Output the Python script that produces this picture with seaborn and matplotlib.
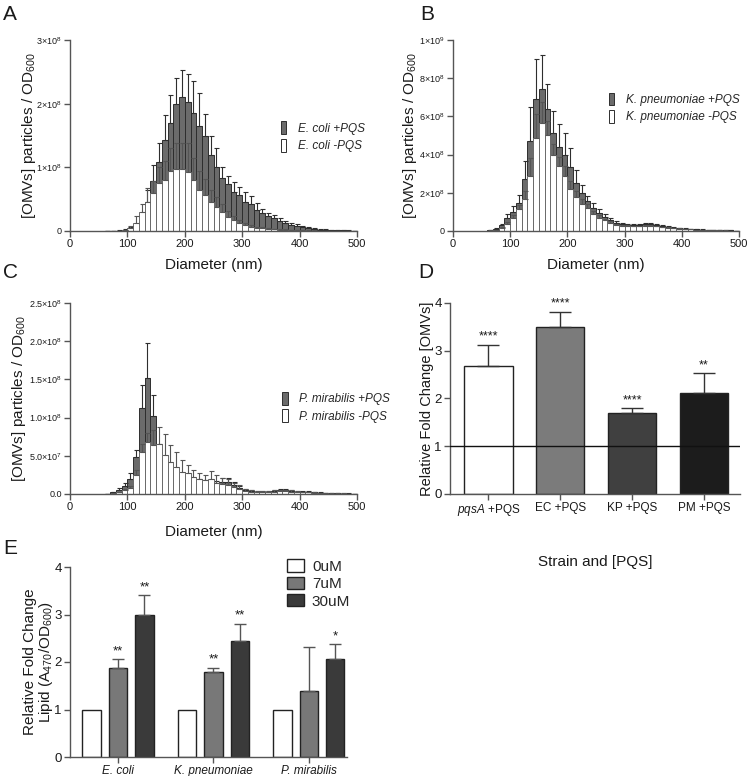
import numpy as np
import pandas as pd
import matplotlib
matplotlib.use("Agg")
import matplotlib.pyplot as plt
import seaborn as sns
from matplotlib.patches import Patch

# ---------------- data ----------------
diam = list(range(65, 500, 10))  # bin centres (nm), 10 nm bins

# Panel A (units of 1e8 particles / OD600)
a_plus = [0.0, 0.0, 0.005, 0.02, 0.04, 0.08, 0.15, 0.45, 0.79, 1.09,
          1.43, 1.69, 2.00, 2.11, 2.03, 1.85, 1.65, 1.50, 1.20, 1.00,
          0.83, 0.74, 0.62, 0.57, 0.46, 0.42, 0.33, 0.29, 0.24, 0.20,
          0.15, 0.12, 0.09, 0.08, 0.06, 0.04, 0.03, 0.02, 0.015, 0.012,
          0.01, 0.008, 0.006, 0.005]
a_plus_err = [0.0, 0.0, 0.005, 0.01, 0.02, 0.03, 0.05, 0.2, 0.25, 0.3,
              0.39, 0.44, 0.40, 0.42, 0.43, 0.50, 0.51, 0.33, 0.30, 0.30,
              0.17, 0.13, 0.15, 0.12, 0.15, 0.13, 0.11, 0.06, 0.05, 0.05,
              0.05, 0.04, 0.04, 0.03, 0.02, 0.02, 0.015, 0.01, 0.01, 0.005,
              0.005, 0.004, 0.003, 0.002]
a_minus = [0.0, 0.0, 0.0, 0.01, 0.05, 0.13, 0.30, 0.46, 0.59, 0.75,
           0.80, 0.95, 0.98, 0.98, 0.93, 0.80, 0.65, 0.57, 0.45, 0.38,
           0.30, 0.22, 0.17, 0.13, 0.09, 0.07, 0.05, 0.04, 0.03, 0.025,
           0.02, 0.015, 0.012, 0.01, 0.008, 0.006, 0.005, 0.004, 0.003, 0.003,
           0.002, 0.002, 0.002, 0.001]
a_minus_err = [0.0, 0.0, 0.0, 0.01, 0.03, 0.10, 0.13, 0.22, 0.20, 0.25,
               0.30, 0.35, 0.40, 0.40, 0.45, 0.35, 0.30, 0.25, 0.20, 0.15,
               0.12, 0.10, 0.07, 0.05, 0.04, 0.03, 0.02, 0.02, 0.015, 0.01,
               0.01, 0.01, 0.005, 0.005, 0.005, 0.004, 0.003, 0.003, 0.002, 0.002,
               0.002, 0.001, 0.001, 0.001]

# Panel B (units of 1e8)
b_plus = [0.05, 0.12, 0.30, 0.70, 1.00, 1.45, 2.70, 4.70, 6.90, 7.46,
          6.40, 5.14, 4.40, 4.00, 3.36, 2.50, 2.00, 1.55, 1.20, 0.95,
          0.75, 0.57, 0.42, 0.36, 0.32, 0.30, 0.32, 0.38, 0.38, 0.33,
          0.25, 0.21, 0.18, 0.15, 0.12, 0.10, 0.08, 0.07, 0.06, 0.05,
          0.04, 0.03, 0.03, 0.02]
b_plus_err = [0.02, 0.04, 0.08, 0.2, 0.3, 0.45, 0.97, 1.8, 2.1, 1.74,
              1.3, 1.16, 1.2, 1.15, 1.0, 0.7, 0.4, 0.3, 0.25, 0.2,
              0.15, 0.12, 0.1, 0.08, 0.06, 0.05, 0.05, 0.06, 0.06, 0.05,
              0.05, 0.04, 0.03, 0.03, 0.02, 0.02, 0.02, 0.015, 0.01, 0.01,
              0.01, 0.01, 0.005, 0.005]
b_minus = [0.02, 0.05, 0.15, 0.38, 0.70, 1.17, 1.70, 2.90, 4.85, 5.63,
           5.05, 3.97, 3.40, 2.90, 2.20, 1.80, 1.43, 1.20, 0.90, 0.70,
           0.55, 0.42, 0.32, 0.27, 0.25, 0.24, 0.24, 0.26, 0.27, 0.24,
           0.20, 0.16, 0.14, 0.12, 0.10, 0.08, 0.06, 0.05, 0.045, 0.04,
           0.03, 0.025, 0.02, 0.015]
b_minus_err = [0.01, 0.02, 0.05, 0.1, 0.15, 0.2, 0.4, 0.9, 1.3, 1.1,
               0.7, 0.6, 0.5, 0.5, 0.4, 0.3, 0.25, 0.2, 0.15, 0.12,
               0.1, 0.08, 0.06, 0.05, 0.04, 0.04, 0.04, 0.04, 0.04, 0.04,
               0.03, 0.03, 0.02, 0.02, 0.02, 0.015, 0.01, 0.01, 0.01, 0.01,
               0.005, 0.005, 0.005, 0.005]

# Panel C (units of 1e8)
c_plus = [0.005, 0.02, 0.05, 0.10, 0.20, 0.48, 1.12, 1.52, 1.02, 0.55,
          0.42, 0.33, 0.28, 0.22, 0.20, 0.17, 0.16, 0.15, 0.14, 0.14,
          0.16, 0.16, 0.12, 0.08, 0.05, 0.04, 0.03, 0.03, 0.03, 0.04,
          0.05, 0.05, 0.04, 0.03, 0.03, 0.025, 0.02, 0.015, 0.01, 0.01,
          0.008, 0.006, 0.005, 0.004]
c_plus_err = [0.0, 0.01, 0.03, 0.05, 0.07, 0.10, 0.31, 0.45, 0.28, 0.10,
              0.08, 0.06, 0.05, 0.04, 0.04, 0.03, 0.03, 0.03, 0.03, 0.03,
              0.05, 0.05, 0.04, 0.03, 0.02, 0.01, 0.01, 0.01, 0.01, 0.015,
              0.02, 0.02, 0.015, 0.01, 0.01, 0.01, 0.005, 0.005, 0.005, 0.003,
              0.003, 0.002, 0.002, 0.002]
c_minus = [0.0, 0.005, 0.02, 0.05, 0.08, 0.25, 0.55, 0.68, 0.64, 0.66,
           0.51, 0.42, 0.35, 0.29, 0.27, 0.22, 0.20, 0.18, 0.20, 0.15,
           0.13, 0.12, 0.09, 0.07, 0.04, 0.03, 0.025, 0.025, 0.025, 0.03,
           0.035, 0.035, 0.03, 0.025, 0.02, 0.02, 0.015, 0.01, 0.008, 0.006,
           0.005, 0.004, 0.003, 0.003]
c_minus_err = [0.0, 0.002, 0.01, 0.02, 0.03, 0.06, 0.10, 0.12, 0.20, 0.22,
               0.27, 0.22, 0.20, 0.16, 0.11, 0.10, 0.08, 0.07, 0.10, 0.10,
               0.08, 0.08, 0.06, 0.05, 0.03, 0.02, 0.02, 0.02, 0.02, 0.02,
               0.02, 0.02, 0.02, 0.015, 0.01, 0.01, 0.01, 0.005, 0.005, 0.005,
               0.003, 0.003, 0.002, 0.002]

# Panel D
d_labels = ["$\\mathit{pqsA}$ +PQS", "EC +PQS", "KP +PQS", "PM +PQS"]
d_vals = [2.69, 3.49, 1.69, 2.11]
d_err = [0.44, 0.33, 0.11, 0.42]
d_stars = ["****", "****", "****", "**"]
d_colors = ["#ffffff", "#7b7b7b", "#404040", "#1c1c1c"]

# Panel E
e_species = ["E. coli", "K. pneumoniae", "P. mirabilis"]
e_conc = ["0uM", "7uM", "30uM"]
e_0uM = [1.0, 1.0, 1.0]
e_7uM = [1.88, 1.78, 1.40]
e_30uM = [2.99, 2.44, 2.06]
e_err_0uM = [0.0, 0.0, 0.0]
e_err_7uM = [0.18, 0.10, 0.92]
e_err_30uM = [0.42, 0.37, 0.31]
e_stars_0uM = ["", "", ""]
e_stars_7uM = ["**", "**", ""]
e_stars_30uM = ["**", "**", "*"]
e_colors = ["#ffffff", "#787878", "#3a3a3a"]

# ---------------- style ----------------
sns.set_theme(style="ticks")
plt.rcParams["font.family"] = ["Liberation Sans", "DejaVu Sans"]
plt.rcParams["mathtext.fontset"] = "custom"
plt.rcParams["mathtext.rm"] = "Liberation Sans"
plt.rcParams["mathtext.it"] = "Liberation Sans:italic"
plt.rcParams["mathtext.default"] = "regular"

SPINE = "#555555"
TXT = "#1a1a1a"
HIST_GREY = "#6b6b6b"

fig = plt.figure(figsize=(7.5, 7.76), dpi=100)
W, H = 750.0, 776.0


def add_ax(left, top, right, bottom):
    return fig.add_axes([left / W, 1 - bottom / H, (right - left) / W, (bottom - top) / H])


axA = add_ax(70, 40, 357, 231)
axB = add_ax(453, 40, 739, 231)
axC = add_ax(70, 303, 357, 494)
axD = add_ax(450, 303, 740, 494)
axE = add_ax(70, 567, 347, 757)


def style_ax(ax):
    sns.despine(ax=ax)
    for s in ("left", "bottom"):
        ax.spines[s].set_color(SPINE)
        ax.spines[s].set_linewidth(1.0)
    ax.tick_params(axis="both", colors=SPINE, labelcolor=TXT, length=4, width=1.0, direction="out", pad=2)


def hist_panel(ax, plus, plus_err, minus, minus_err, ymax, yticks, yticklabels, leg_labels, leg_anchor, ylab_x):
    zeros = np.zeros(len(diam))
    dfp = pd.DataFrame({"d": diam, "v": plus})
    dfm = pd.DataFrame({"d": diam, "v": minus})
    sns.barplot(data=dfp, x="d", y="v", native_scale=True, width=1.0, color=HIST_GREY,
                saturation=1, edgecolor="#2e2e2e", linewidth=0.7, errorbar=None, ax=ax, zorder=1)
    ax.errorbar(diam, plus, yerr=[zeros, plus_err], fmt="none", ecolor="#2e2e2e",
                elinewidth=0.8, capsize=1.8, capthick=0.8, zorder=1.5)
    sns.barplot(data=dfm, x="d", y="v", native_scale=True, width=1.0, color="white",
                saturation=1, edgecolor="#6a6a6a", linewidth=0.7, errorbar=None, ax=ax, zorder=2)
    ax.errorbar(diam, minus, yerr=[zeros, minus_err], fmt="none", ecolor="#555555",
                elinewidth=0.8, capsize=1.8, capthick=0.8, zorder=2.5)
    ax.set_xlim(0, 500)
    ax.set_ylim(0, ymax)
    ax.set_xticks([0, 100, 200, 300, 400, 500])
    ax.set_xticklabels(["0", "100", "200", "300", "400", "500"], fontsize=8)
    ax.set_yticks(yticks)
    ax.set_yticklabels(yticklabels, fontsize=6.5)
    ax.set_xlabel("Diameter (nm)", fontsize=11, color=TXT)
    ax.set_ylabel("[OMVs] particles / OD$_{600}$", fontsize=11, color=TXT)
    ax.xaxis.set_label_coords(0.5, -0.14)
    ax.yaxis.set_label_coords(ylab_x, 0.5)
    style_ax(ax)
    handles = [Patch(facecolor=HIST_GREY, edgecolor="#2e2e2e", linewidth=0.7),
               Patch(facecolor="white", edgecolor="#2e2e2e", linewidth=0.7)]
    ax.legend(handles, leg_labels, loc="upper left", bbox_to_anchor=leg_anchor, frameon=False,
              prop={"size": 8.5, "style": "italic"}, handlelength=0.45, handleheight=1.3,
              handletextpad=1.0, labelspacing=0.35, borderaxespad=0, borderpad=0)


hist_panel(axA, a_plus, a_plus_err, a_minus, a_minus_err, 3.0, [0, 1, 2, 3],
           ["0", "1×10$^{8}$", "2×10$^{8}$", "3×10$^{8}$"],
           ["E. coli +PQS", "E. coli -PQS"], (0.735, 0.575), -0.11)
hist_panel(axB, b_plus, b_plus_err, b_minus, b_minus_err, 10.0, [0, 2, 4, 6, 8, 10],
           ["0", "2×10$^{8}$", "4×10$^{8}$", "6×10$^{8}$", "8×10$^{8}$", "1×10$^{9}$"],
           ["K. pneumoniae +PQS", "K. pneumoniae -PQS"], (0.545, 0.725), -0.12)
hist_panel(axC, c_plus, c_plus_err, c_minus, c_minus_err, 2.5, [0, 0.5, 1.0, 1.5, 2.0, 2.5],
           ["0.0", "5.0×10$^{7}$", "1.0×10$^{8}$", "1.5×10$^{8}$", "2.0×10$^{8}$", "2.5×10$^{8}$"],
           ["P. mirabilis +PQS", "P. mirabilis -PQS"], (0.74, 0.535), -0.148)
axC.xaxis.set_label_coords(0.5, -0.16)

# ---------------- Panel D ----------------
sns.barplot(x=d_labels, y=d_vals, hue=d_labels, palette=d_colors, width=0.67, saturation=1,
            edgecolor="#222222", linewidth=1.0, legend=False, errorbar=None, ax=axD)
xpos = np.arange(len(d_labels))
axD.errorbar(xpos, d_vals, yerr=[np.zeros(len(d_vals)), d_err], fmt="none", ecolor="#333333",
             elinewidth=1.0, capsize=8, capthick=1.0, zorder=3)
for x, v, e, s in zip(xpos, d_vals, d_err, d_stars):
    axD.text(x, v + e + 0.04, s, ha="center", va="bottom", fontsize=9, color=TXT)
axD.axhline(1, color="#111111", lw=1.0, zorder=4)
axD.set_xlim(-0.535, 3.5)
axD.set_ylim(0, 4)
axD.set_yticks([0, 1, 2, 3, 4])
axD.set_yticklabels(["0", "1", "2", "3", "4"], fontsize=9.5)
axD.tick_params(axis="x", labelsize=8.5)
axD.set_xlabel("Strain and [PQS]", fontsize=11, color=TXT)
axD.set_ylabel("Relative Fold Change [OMVs]", fontsize=10.5, color=TXT)
axD.xaxis.set_label_coords(0.5, -0.32)
axD.yaxis.set_label_coords(-0.055, 0.5)
style_ax(axD)

# ---------------- Panel E ----------------
e_vals = {"0uM": e_0uM, "7uM": e_7uM, "30uM": e_30uM}
e_errs = {"0uM": e_err_0uM, "7uM": e_err_7uM, "30uM": e_err_30uM}
e_stars = {"0uM": e_stars_0uM, "7uM": e_stars_7uM, "30uM": e_stars_30uM}
rows = []
for c in e_conc:
    for sp, v in zip(e_species, e_vals[c]):
        rows.append({"species": sp, "conc": c, "val": v})
dfE = pd.DataFrame(rows)
sns.barplot(data=dfE, x="species", y="val", hue="conc", hue_order=e_conc, order=e_species,
            palette=e_colors, saturation=1, width=0.83, gap=0.31, edgecolor="#222222",
            linewidth=1.0, errorbar=None, legend=False, ax=axE)
for cont, c in zip(axE.containers, e_conc):
    for bar, err, star in zip(cont, e_errs[c], e_stars[c]):
        cx = bar.get_x() + bar.get_width() / 2
        top = bar.get_height()
        if err > 0:
            axE.errorbar([cx], [top], yerr=[[0], [err]], fmt="none", ecolor="#555555",
                         elinewidth=1.0, capsize=4, capthick=1.0, zorder=3)
        if star:
            axE.text(cx, top + err + 0.04, star, ha="center", va="bottom", fontsize=9.5, color=TXT)
axE.set_xlim(-0.503, 2.4)
axE.set_ylim(0, 4)
axE.set_yticks([0, 1, 2, 3, 4])
axE.set_yticklabels(["0", "1", "2", "3", "4"], fontsize=9.5)
axE.tick_params(axis="x", labelsize=8.5)
for lbl in axE.get_xticklabels():
    lbl.set_style("italic")
axE.set_xlabel("")
axE.set_ylabel("Relative Fold Change\nLipid (A$_{470}$/OD$_{600}$)", fontsize=11, color=TXT,
               linespacing=1.0)
axE.yaxis.set_label_coords(-0.055, 0.5)
style_ax(axE)
e_handles = [Patch(facecolor=col, edgecolor="#222222", linewidth=1.0) for col in e_colors]
axE.legend(e_handles, e_conc, loc="upper left", bbox_to_anchor=(0.785, 1.04), frameon=False,
           fontsize=11, handlelength=1.1, handleheight=0.85, handletextpad=0.5,
           labelspacing=0.2, borderaxespad=0, borderpad=0)

# ---------------- panel letters ----------------
for letter, x, y in [("A", 3, 15), ("B", 420, 15), ("C", 3, 272), ("D", 418, 272), ("E", 3, 548)]:
    fig.text(x / W, 1 - y / H, letter, fontsize=15, ha="left", va="center", color=TXT)

fig.savefig("out.png", dpi=100)
